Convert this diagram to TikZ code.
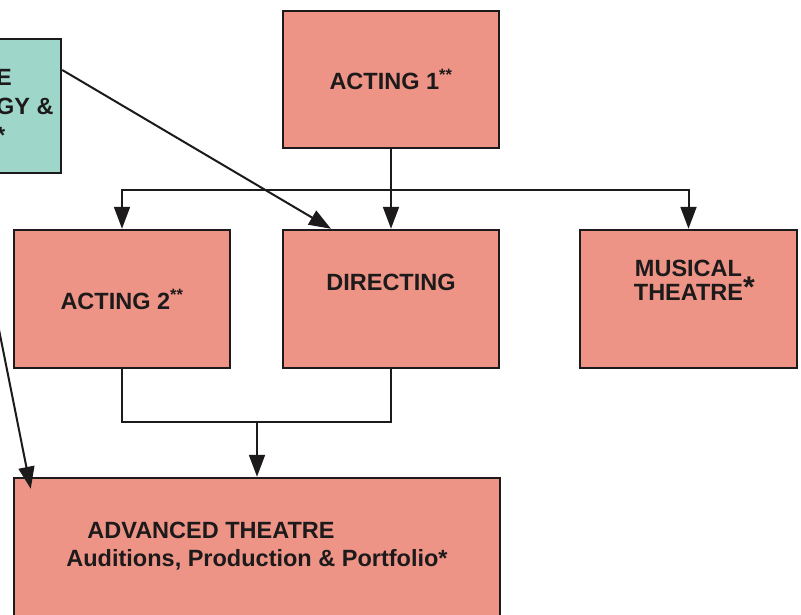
\documentclass[tikz,border=0pt]{standalone}
\usepackage{fontspec}
\setmainfont{Liberation Sans}
\usetikzlibrary{arrows.meta}
\definecolor{salmon}{HTML}{EE9486}
\definecolor{teal}{HTML}{9FD6CA}
\definecolor{ink}{HTML}{1C1A1A}
\tikzset{
    course/.style={draw=ink, line width=2.5pt, fill=salmon, rectangle, text=ink,
        font=\fontsize{23.5}{24}\selectfont\bfseries, align=center},
    prereq/.style={course, fill=teal},
    arr/.style={draw=ink, line width=2pt, -{Triangle[length=22pt,width=16pt]}},
    link/.style={draw=ink, line width=2pt}
}

\begin{document}
\begin{tikzpicture}[x=1pt,y=-1pt]
    \useasboundingbox (0,0) rectangle (801,614);
    \clip (0,0) rectangle (801,614);
    \fill[white] (0,0) rectangle (801,614);

    \node[prereq, minimum width=106pt, minimum height=134pt] (tech) at (8,106) {};
    \node[font=\fontsize{23.5}{29}\selectfont\bfseries, text=ink, align=left, anchor=west, inner sep=0pt] (techtext) at (-4,106) {E\\GY \&\\*};

    \node[course, minimum width=216pt, minimum height=137pt] (acting1) at (391,79.5) {ACTING 1\textsuperscript{**}};
    \node[course, minimum width=216pt, minimum height=138pt] (acting2) at (122,299) {ACTING 2\textsuperscript{**}};
    \node[course, minimum width=216pt, minimum height=138pt, text depth=34pt] (directing) at (391,299) {DIRECTING};
    \node[course, minimum width=217pt, minimum height=138pt, text depth=38pt] (musical) at (688.5,299) {MUSICAL\\THEATRE\rlap{\raisebox{3pt}{\fontsize{30}{30}\selectfont *}}};
    \node[course, minimum width=486pt, minimum height=140pt, align=left, font=\fontsize{23.5}{28}\selectfont\bfseries, text depth=8pt] (advanced) at (257,548) {\hspace*{21pt}ADVANCED THEATRE\\Auditions, Production \& Portfolio*};

    \coordinate (split) at (392,190);
    \coordinate (join) at (257,422);

    \draw[arr] (acting1.south) -- (directing.north);
    \draw[arr] (split) -| (acting2.north);
    \draw[arr] (split) -| (musical.north);

    \draw[link] (acting2.south) |- (join) -| (directing.south);
    \draw[arr] (join) -- (advanced.north);

    \draw[arr] ([yshift=36pt]tech.east) -- ([xshift=-60pt]directing.north);
    \draw[arr] ([xshift=-40pt]tech.south) -- ([xshift=18pt,yshift=-12pt]advanced.north west);
\end{tikzpicture}
\end{document}
